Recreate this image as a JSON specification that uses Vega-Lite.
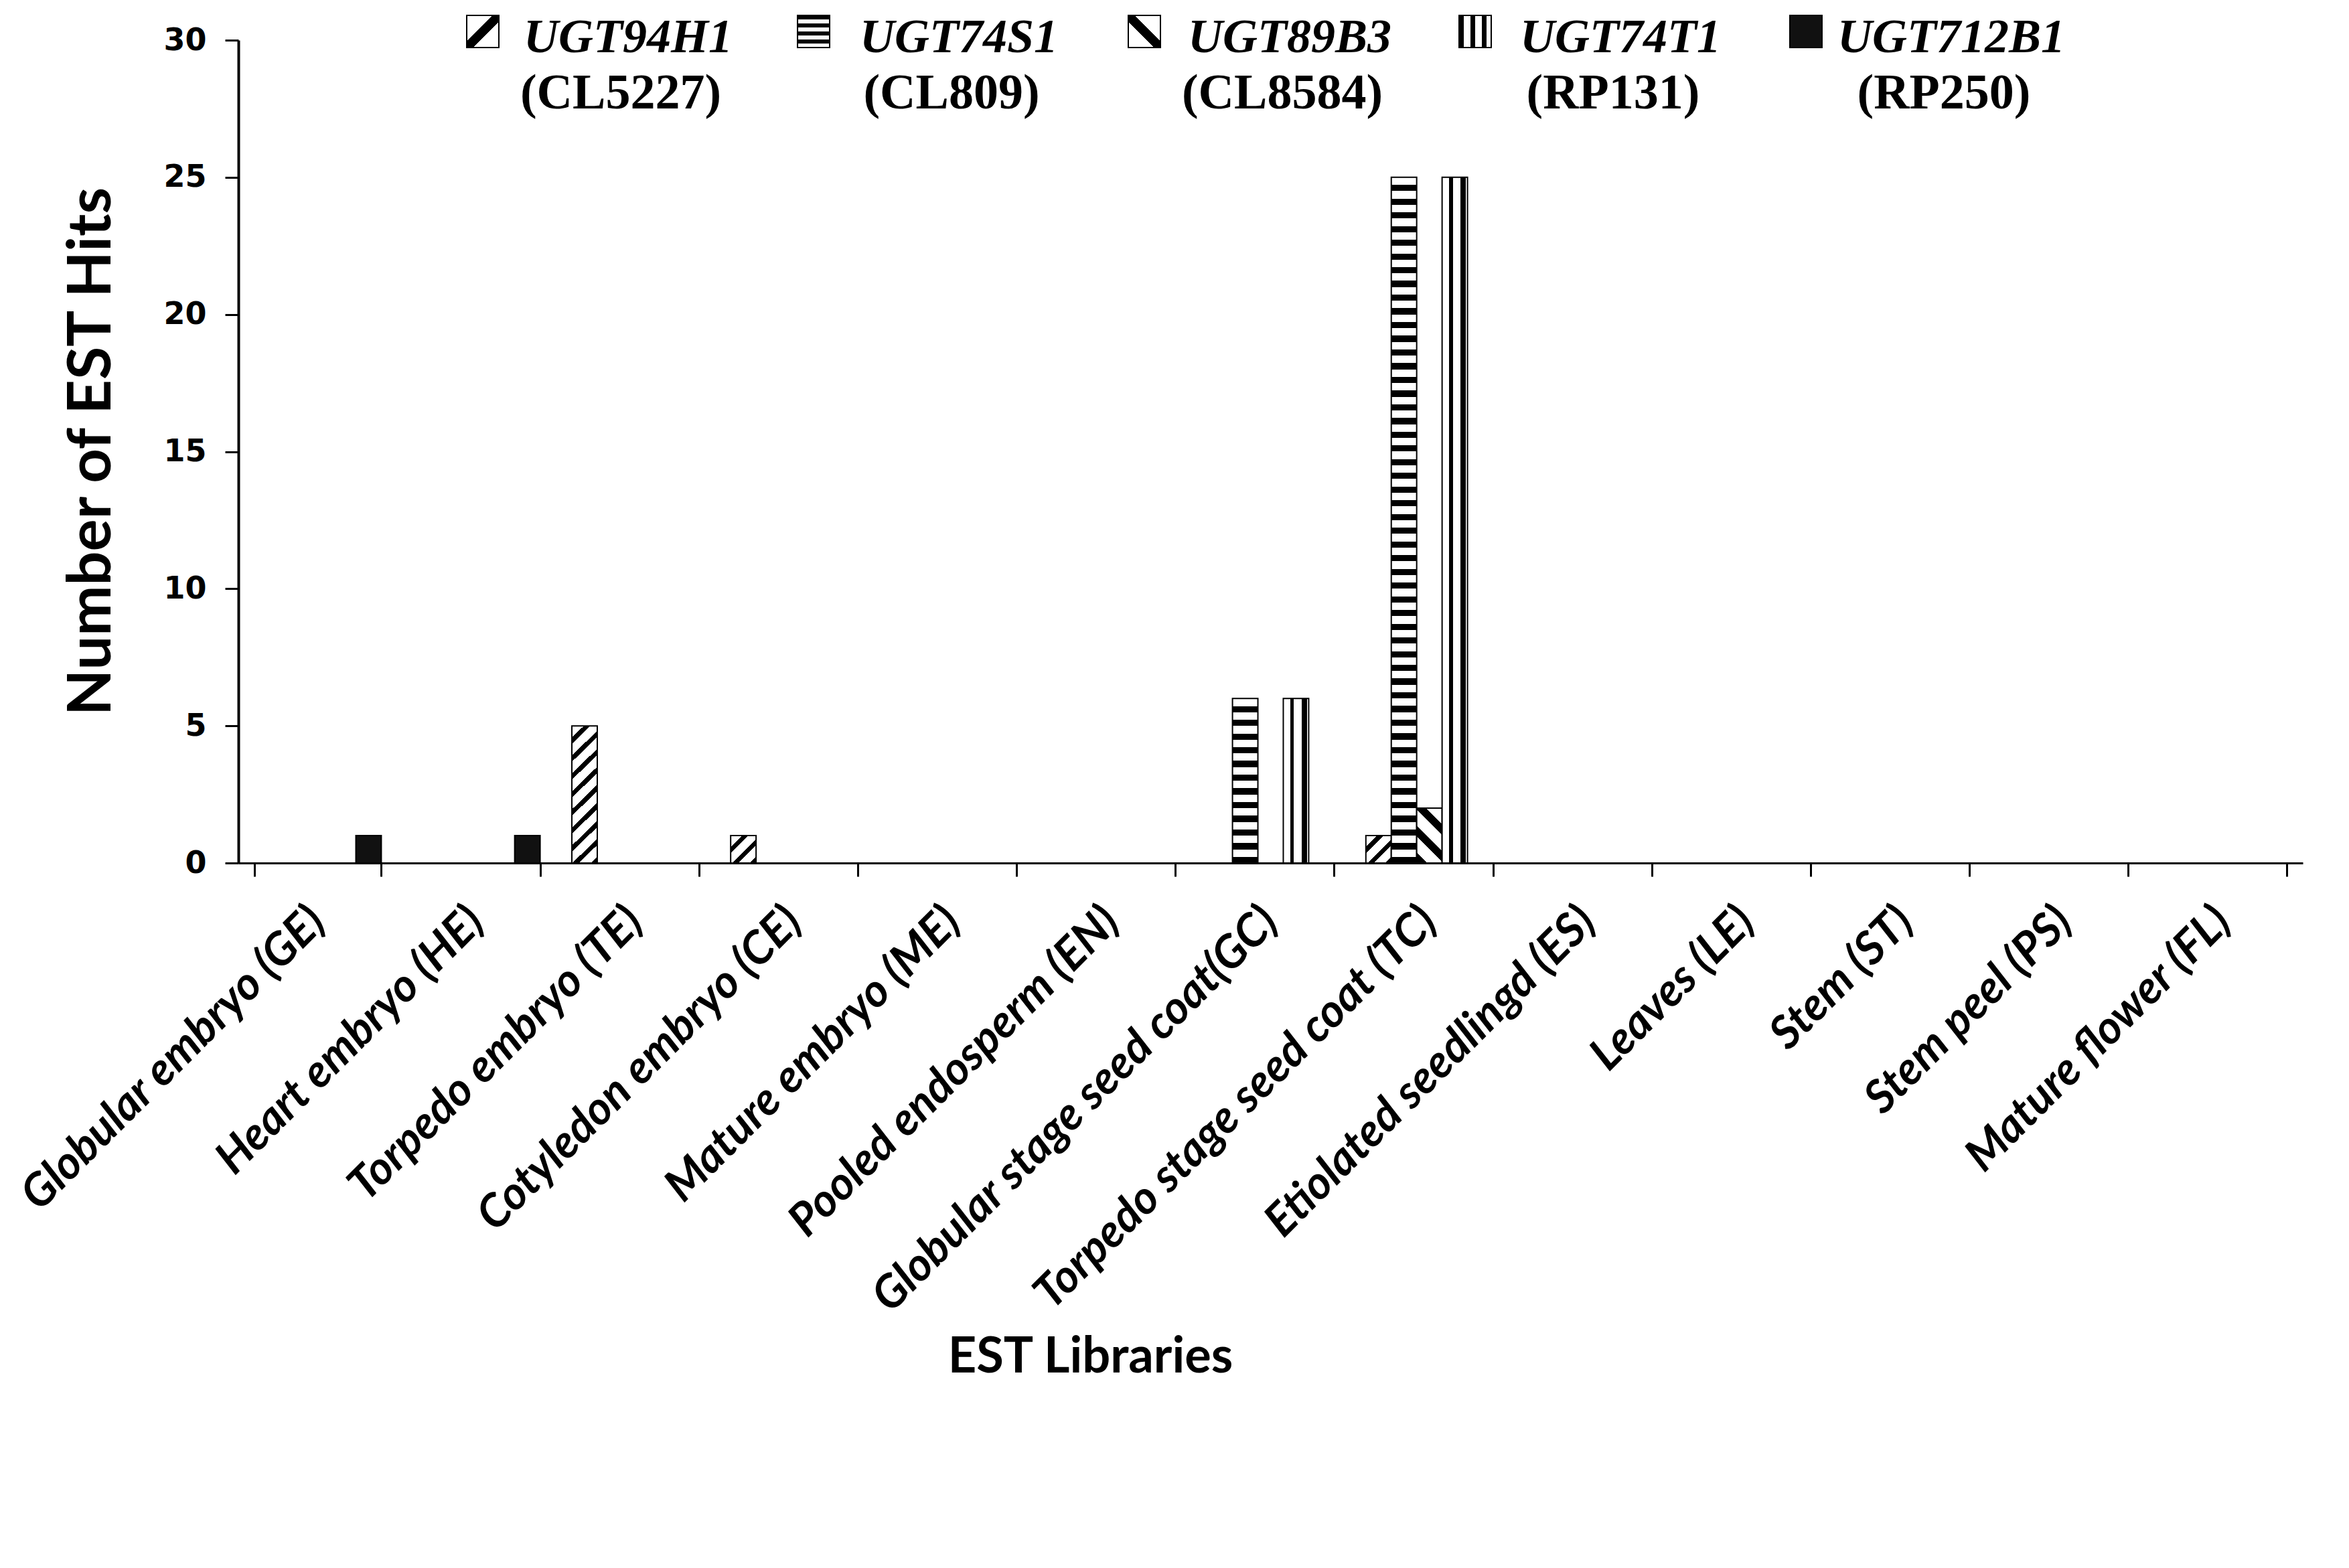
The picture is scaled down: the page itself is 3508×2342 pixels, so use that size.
{
  "$schema": "https://vega.github.io/schema/vega-lite/v6.json",
  "width": 3083,
  "height": 1229,
  "autosize": "none",
  "padding": {"left": 356, "top": 60, "right": 69, "bottom": 1053},
  "background": "white",
  "config": {"view": {"stroke": null}},
  "datasets": {
    "hits": [
      {"library": "Globular embryo (GE)", "series": "UGT712B1", "hits": 1},
      {"library": "Heart embryo (HE)", "series": "UGT712B1", "hits": 1},
      {"library": "Torpedo embryo (TE)", "series": "UGT94H1", "hits": 5},
      {"library": "Cotyledon embryo (CE)", "series": "UGT94H1", "hits": 1},
      {"library": "Globular stage seed coat(GC)", "series": "UGT74S1", "hits": 6},
      {"library": "Globular stage seed coat(GC)", "series": "UGT74T1", "hits": 6},
      {"library": "Torpedo stage seed coat (TC)", "series": "UGT94H1", "hits": 1},
      {"library": "Torpedo stage seed coat (TC)", "series": "UGT74S1", "hits": 25},
      {"library": "Torpedo stage seed coat (TC)", "series": "UGT89B3", "hits": 2},
      {"library": "Torpedo stage seed coat (TC)", "series": "UGT74T1", "hits": 25}
    ],
    "legend": [
      {"series": "UGT94H1", "clone": "(CL5227)"},
      {"series": "UGT74S1", "clone": "(CL809)"},
      {"series": "UGT89B3", "clone": "(CL8584)"},
      {"series": "UGT74T1", "clone": "(RP131)"},
      {"series": "UGT712B1", "clone": "(RP250)"}
    ]
  },
  "resolve": {"scale": {"x": "independent"}},
  "layer": [
    {
      "data": {"name": "hits"},
      "mark": {"type": "bar", "stroke": "#000", "strokeWidth": 2},
      "encoding": {
        "x": {
          "field": "library",
          "type": "nominal",
          "scale": {
            "domain": ["Globular embryo (GE)", "Heart embryo (HE)", "Torpedo embryo (TE)", "Cotyledon embryo (CE)", "Mature embryo (ME)", "Pooled endosperm (EN)", "Globular stage seed coat(GC)", "Torpedo stage seed coat (TC)", "Etiolated seedlingd (ES)", "Leaves (LE)", "Stem (ST)", "Stem peel (PS)", "Mature flower (FL)"],
            "paddingInner": 0.2,
            "paddingOuter": 0.1
          },
          "axis": {
            "title": "EST Libraries",
            "titleFont": "Lato",
            "titleFontSize": 74,
            "titleFontWeight": "bold",
            "titleColor": "#000",
            "titleX": 1272,
            "titleY": 760,
            "titleAlign": "center",
            "titleBaseline": "alphabetic",
            "labelAngle": -45,
            "labelAlign": "right",
            "labelBaseline": "middle",
            "labelFont": "Lato",
            "labelFontSize": 68,
            "labelFontWeight": "bold",
            "labelFontStyle": "italic",
            "labelColor": "#000",
            "labelPadding": 57,
            "labelLimit": 2000,
            "labelOverlap": false,
            "tickBand": "extent",
            "tickSize": 20,
            "tickWidth": 3,
            "tickColor": "#000",
            "domainColor": "#000",
            "domainWidth": 3
          }
        },
        "xOffset": {
          "field": "series",
          "type": "nominal",
          "scale": {"domain": ["UGT94H1", "UGT74S1", "UGT89B3", "UGT74T1", "UGT712B1"], "paddingInner": 0, "paddingOuter": 0}
        },
        "y": {
          "field": "hits",
          "type": "quantitative",
          "title": "Number of EST Hits",
          "scale": {"domain": [0, 30], "nice": false},
          "axis": {
            "title": "Number of EST Hits",
            "values": [0, 5, 10, 15, 20, 25, 30],
            "grid": false,
            "tickSize": 20,
            "tickWidth": 3,
            "tickColor": "#000",
            "domainColor": "#000",
            "domainWidth": 4,
            "labelFont": "DejaVu Sans",
            "labelFontSize": 46,
            "labelFontWeight": "bold",
            "labelColor": "#000",
            "labelPadding": 28,
            "titleFont": "Lato",
            "titleFontSize": 90,
            "titleFontWeight": "bold",
            "titleColor": "#000",
            "titleX": -219,
            "titleY": 614,
            "titleAngle": -90,
            "titleAlign": "center",
            "titleBaseline": "middle"
          }
        },
        "fill": {
          "condition": [
            {
              "test": "datum.series === 'UGT94H1' && datum.hits >= 3",
              "value": {
                "gradient": "linear", "x1": 0, "y1": 0, "x2": 0.206, "y2": 1.143,
                "stops": [
                  {"offset": 0, "color": "#fff"}, {"offset": 0.072, "color": "#fff"}, {"offset": 0.072, "color": "#000"}, {"offset": 0.111, "color": "#000"},
                  {"offset": 0.111, "color": "#fff"}, {"offset": 0.183, "color": "#fff"}, {"offset": 0.183, "color": "#000"}, {"offset": 0.222, "color": "#000"},
                  {"offset": 0.222, "color": "#fff"}, {"offset": 0.294, "color": "#fff"}, {"offset": 0.294, "color": "#000"}, {"offset": 0.333, "color": "#000"},
                  {"offset": 0.333, "color": "#fff"}, {"offset": 0.405, "color": "#fff"}, {"offset": 0.405, "color": "#000"}, {"offset": 0.444, "color": "#000"},
                  {"offset": 0.444, "color": "#fff"}, {"offset": 0.516, "color": "#fff"}, {"offset": 0.516, "color": "#000"}, {"offset": 0.556, "color": "#000"},
                  {"offset": 0.556, "color": "#fff"}, {"offset": 0.628, "color": "#fff"}, {"offset": 0.628, "color": "#000"}, {"offset": 0.667, "color": "#000"},
                  {"offset": 0.667, "color": "#fff"}, {"offset": 0.739, "color": "#fff"}, {"offset": 0.739, "color": "#000"}, {"offset": 0.778, "color": "#000"},
                  {"offset": 0.778, "color": "#fff"}, {"offset": 0.85, "color": "#fff"}, {"offset": 0.85, "color": "#000"}, {"offset": 0.889, "color": "#000"},
                  {"offset": 0.889, "color": "#fff"}, {"offset": 0.961, "color": "#fff"}, {"offset": 0.961, "color": "#000"}, {"offset": 1, "color": "#000"}
                ]
              }
            },
            {
              "test": "datum.series === 'UGT94H1'",
              "value": {
                "gradient": "linear", "x1": 0, "y1": 0, "x2": 0.959, "y2": 1.038,
                "stops": [
                  {"offset": 0, "color": "#fff"}, {"offset": 0.217, "color": "#fff"}, {"offset": 0.217, "color": "#000"}, {"offset": 0.333, "color": "#000"},
                  {"offset": 0.333, "color": "#fff"}, {"offset": 0.55, "color": "#fff"}, {"offset": 0.55, "color": "#000"}, {"offset": 0.667, "color": "#000"},
                  {"offset": 0.667, "color": "#fff"}, {"offset": 0.883, "color": "#fff"}, {"offset": 0.883, "color": "#000"}, {"offset": 1, "color": "#000"}
                ]
              }
            },
            {
              "test": "datum.series === 'UGT74S1' && datum.hits >= 10",
              "value": {
                "gradient": "linear", "x1": 0, "y1": 0, "x2": 0, "y2": 1,
                "stops": [
                  {"offset": 0, "color": "#fff"}, {"offset": 0.011, "color": "#fff"}, {"offset": 0.011, "color": "#000"}, {"offset": 0.02, "color": "#000"},
                  {"offset": 0.02, "color": "#fff"}, {"offset": 0.031, "color": "#fff"}, {"offset": 0.031, "color": "#000"}, {"offset": 0.04, "color": "#000"},
                  {"offset": 0.04, "color": "#fff"}, {"offset": 0.051, "color": "#fff"}, {"offset": 0.051, "color": "#000"}, {"offset": 0.06, "color": "#000"},
                  {"offset": 0.06, "color": "#fff"}, {"offset": 0.071, "color": "#fff"}, {"offset": 0.071, "color": "#000"}, {"offset": 0.08, "color": "#000"},
                  {"offset": 0.08, "color": "#fff"}, {"offset": 0.091, "color": "#fff"}, {"offset": 0.091, "color": "#000"}, {"offset": 0.1, "color": "#000"},
                  {"offset": 0.1, "color": "#fff"}, {"offset": 0.111, "color": "#fff"}, {"offset": 0.111, "color": "#000"}, {"offset": 0.12, "color": "#000"},
                  {"offset": 0.12, "color": "#fff"}, {"offset": 0.131, "color": "#fff"}, {"offset": 0.131, "color": "#000"}, {"offset": 0.14, "color": "#000"},
                  {"offset": 0.14, "color": "#fff"}, {"offset": 0.151, "color": "#fff"}, {"offset": 0.151, "color": "#000"}, {"offset": 0.16, "color": "#000"},
                  {"offset": 0.16, "color": "#fff"}, {"offset": 0.171, "color": "#fff"}, {"offset": 0.171, "color": "#000"}, {"offset": 0.18, "color": "#000"},
                  {"offset": 0.18, "color": "#fff"}, {"offset": 0.191, "color": "#fff"}, {"offset": 0.191, "color": "#000"}, {"offset": 0.2, "color": "#000"},
                  {"offset": 0.2, "color": "#fff"}, {"offset": 0.211, "color": "#fff"}, {"offset": 0.211, "color": "#000"}, {"offset": 0.22, "color": "#000"},
                  {"offset": 0.22, "color": "#fff"}, {"offset": 0.231, "color": "#fff"}, {"offset": 0.231, "color": "#000"}, {"offset": 0.24, "color": "#000"},
                  {"offset": 0.24, "color": "#fff"}, {"offset": 0.251, "color": "#fff"}, {"offset": 0.251, "color": "#000"}, {"offset": 0.26, "color": "#000"},
                  {"offset": 0.26, "color": "#fff"}, {"offset": 0.271, "color": "#fff"}, {"offset": 0.271, "color": "#000"}, {"offset": 0.28, "color": "#000"},
                  {"offset": 0.28, "color": "#fff"}, {"offset": 0.291, "color": "#fff"}, {"offset": 0.291, "color": "#000"}, {"offset": 0.3, "color": "#000"},
                  {"offset": 0.3, "color": "#fff"}, {"offset": 0.311, "color": "#fff"}, {"offset": 0.311, "color": "#000"}, {"offset": 0.32, "color": "#000"},
                  {"offset": 0.32, "color": "#fff"}, {"offset": 0.331, "color": "#fff"}, {"offset": 0.331, "color": "#000"}, {"offset": 0.34, "color": "#000"},
                  {"offset": 0.34, "color": "#fff"}, {"offset": 0.351, "color": "#fff"}, {"offset": 0.351, "color": "#000"}, {"offset": 0.36, "color": "#000"},
                  {"offset": 0.36, "color": "#fff"}, {"offset": 0.371, "color": "#fff"}, {"offset": 0.371, "color": "#000"}, {"offset": 0.38, "color": "#000"},
                  {"offset": 0.38, "color": "#fff"}, {"offset": 0.391, "color": "#fff"}, {"offset": 0.391, "color": "#000"}, {"offset": 0.4, "color": "#000"},
                  {"offset": 0.4, "color": "#fff"}, {"offset": 0.411, "color": "#fff"}, {"offset": 0.411, "color": "#000"}, {"offset": 0.42, "color": "#000"},
                  {"offset": 0.42, "color": "#fff"}, {"offset": 0.431, "color": "#fff"}, {"offset": 0.431, "color": "#000"}, {"offset": 0.44, "color": "#000"},
                  {"offset": 0.44, "color": "#fff"}, {"offset": 0.451, "color": "#fff"}, {"offset": 0.451, "color": "#000"}, {"offset": 0.46, "color": "#000"},
                  {"offset": 0.46, "color": "#fff"}, {"offset": 0.471, "color": "#fff"}, {"offset": 0.471, "color": "#000"}, {"offset": 0.48, "color": "#000"},
                  {"offset": 0.48, "color": "#fff"}, {"offset": 0.491, "color": "#fff"}, {"offset": 0.491, "color": "#000"}, {"offset": 0.5, "color": "#000"},
                  {"offset": 0.5, "color": "#fff"}, {"offset": 0.511, "color": "#fff"}, {"offset": 0.511, "color": "#000"}, {"offset": 0.52, "color": "#000"},
                  {"offset": 0.52, "color": "#fff"}, {"offset": 0.531, "color": "#fff"}, {"offset": 0.531, "color": "#000"}, {"offset": 0.54, "color": "#000"},
                  {"offset": 0.54, "color": "#fff"}, {"offset": 0.551, "color": "#fff"}, {"offset": 0.551, "color": "#000"}, {"offset": 0.56, "color": "#000"},
                  {"offset": 0.56, "color": "#fff"}, {"offset": 0.571, "color": "#fff"}, {"offset": 0.571, "color": "#000"}, {"offset": 0.58, "color": "#000"},
                  {"offset": 0.58, "color": "#fff"}, {"offset": 0.591, "color": "#fff"}, {"offset": 0.591, "color": "#000"}, {"offset": 0.6, "color": "#000"},
                  {"offset": 0.6, "color": "#fff"}, {"offset": 0.611, "color": "#fff"}, {"offset": 0.611, "color": "#000"}, {"offset": 0.62, "color": "#000"},
                  {"offset": 0.62, "color": "#fff"}, {"offset": 0.631, "color": "#fff"}, {"offset": 0.631, "color": "#000"}, {"offset": 0.64, "color": "#000"},
                  {"offset": 0.64, "color": "#fff"}, {"offset": 0.651, "color": "#fff"}, {"offset": 0.651, "color": "#000"}, {"offset": 0.66, "color": "#000"},
                  {"offset": 0.66, "color": "#fff"}, {"offset": 0.671, "color": "#fff"}, {"offset": 0.671, "color": "#000"}, {"offset": 0.68, "color": "#000"},
                  {"offset": 0.68, "color": "#fff"}, {"offset": 0.691, "color": "#fff"}, {"offset": 0.691, "color": "#000"}, {"offset": 0.7, "color": "#000"},
                  {"offset": 0.7, "color": "#fff"}, {"offset": 0.711, "color": "#fff"}, {"offset": 0.711, "color": "#000"}, {"offset": 0.72, "color": "#000"},
                  {"offset": 0.72, "color": "#fff"}, {"offset": 0.731, "color": "#fff"}, {"offset": 0.731, "color": "#000"}, {"offset": 0.74, "color": "#000"},
                  {"offset": 0.74, "color": "#fff"}, {"offset": 0.751, "color": "#fff"}, {"offset": 0.751, "color": "#000"}, {"offset": 0.76, "color": "#000"},
                  {"offset": 0.76, "color": "#fff"}, {"offset": 0.771, "color": "#fff"}, {"offset": 0.771, "color": "#000"}, {"offset": 0.78, "color": "#000"},
                  {"offset": 0.78, "color": "#fff"}, {"offset": 0.791, "color": "#fff"}, {"offset": 0.791, "color": "#000"}, {"offset": 0.8, "color": "#000"},
                  {"offset": 0.8, "color": "#fff"}, {"offset": 0.811, "color": "#fff"}, {"offset": 0.811, "color": "#000"}, {"offset": 0.82, "color": "#000"},
                  {"offset": 0.82, "color": "#fff"}, {"offset": 0.831, "color": "#fff"}, {"offset": 0.831, "color": "#000"}, {"offset": 0.84, "color": "#000"},
                  {"offset": 0.84, "color": "#fff"}, {"offset": 0.851, "color": "#fff"}, {"offset": 0.851, "color": "#000"}, {"offset": 0.86, "color": "#000"},
                  {"offset": 0.86, "color": "#fff"}, {"offset": 0.871, "color": "#fff"}, {"offset": 0.871, "color": "#000"}, {"offset": 0.88, "color": "#000"},
                  {"offset": 0.88, "color": "#fff"}, {"offset": 0.891, "color": "#fff"}, {"offset": 0.891, "color": "#000"}, {"offset": 0.9, "color": "#000"},
                  {"offset": 0.9, "color": "#fff"}, {"offset": 0.911, "color": "#fff"}, {"offset": 0.911, "color": "#000"}, {"offset": 0.92, "color": "#000"},
                  {"offset": 0.92, "color": "#fff"}, {"offset": 0.931, "color": "#fff"}, {"offset": 0.931, "color": "#000"}, {"offset": 0.94, "color": "#000"},
                  {"offset": 0.94, "color": "#fff"}, {"offset": 0.951, "color": "#fff"}, {"offset": 0.951, "color": "#000"}, {"offset": 0.96, "color": "#000"},
                  {"offset": 0.96, "color": "#fff"}, {"offset": 0.971, "color": "#fff"}, {"offset": 0.971, "color": "#000"}, {"offset": 0.98, "color": "#000"},
                  {"offset": 0.98, "color": "#fff"}, {"offset": 0.991, "color": "#fff"}, {"offset": 0.991, "color": "#000"}, {"offset": 1, "color": "#000"}
                ]
              }
            },
            {
              "test": "datum.series === 'UGT74S1'",
              "value": {
                "gradient": "linear", "x1": 0, "y1": 0, "x2": 0, "y2": 1,
                "stops": [
                  {"offset": 0, "color": "#fff"}, {"offset": 0.046, "color": "#fff"}, {"offset": 0.046, "color": "#000"}, {"offset": 0.083, "color": "#000"},
                  {"offset": 0.083, "color": "#fff"}, {"offset": 0.129, "color": "#fff"}, {"offset": 0.129, "color": "#000"}, {"offset": 0.167, "color": "#000"},
                  {"offset": 0.167, "color": "#fff"}, {"offset": 0.213, "color": "#fff"}, {"offset": 0.213, "color": "#000"}, {"offset": 0.25, "color": "#000"},
                  {"offset": 0.25, "color": "#fff"}, {"offset": 0.296, "color": "#fff"}, {"offset": 0.296, "color": "#000"}, {"offset": 0.333, "color": "#000"},
                  {"offset": 0.333, "color": "#fff"}, {"offset": 0.379, "color": "#fff"}, {"offset": 0.379, "color": "#000"}, {"offset": 0.417, "color": "#000"},
                  {"offset": 0.417, "color": "#fff"}, {"offset": 0.463, "color": "#fff"}, {"offset": 0.463, "color": "#000"}, {"offset": 0.5, "color": "#000"},
                  {"offset": 0.5, "color": "#fff"}, {"offset": 0.546, "color": "#fff"}, {"offset": 0.546, "color": "#000"}, {"offset": 0.583, "color": "#000"},
                  {"offset": 0.583, "color": "#fff"}, {"offset": 0.629, "color": "#fff"}, {"offset": 0.629, "color": "#000"}, {"offset": 0.667, "color": "#000"},
                  {"offset": 0.667, "color": "#fff"}, {"offset": 0.713, "color": "#fff"}, {"offset": 0.713, "color": "#000"}, {"offset": 0.75, "color": "#000"},
                  {"offset": 0.75, "color": "#fff"}, {"offset": 0.796, "color": "#fff"}, {"offset": 0.796, "color": "#000"}, {"offset": 0.833, "color": "#000"},
                  {"offset": 0.833, "color": "#fff"}, {"offset": 0.879, "color": "#fff"}, {"offset": 0.879, "color": "#000"}, {"offset": 0.917, "color": "#000"},
                  {"offset": 0.917, "color": "#fff"}, {"offset": 0.963, "color": "#fff"}, {"offset": 0.963, "color": "#000"}, {"offset": 1, "color": "#000"}
                ]
              }
            },
            {
              "test": "datum.series === 'UGT89B3'",
              "value": {
                "gradient": "linear", "x1": 1, "y1": 0, "x2": 0.443, "y2": 1.205,
                "stops": [
                  {"offset": 0, "color": "#fff"}, {"offset": 0.2, "color": "#fff"}, {"offset": 0.2, "color": "#000"}, {"offset": 0.333, "color": "#000"},
                  {"offset": 0.333, "color": "#fff"}, {"offset": 0.533, "color": "#fff"}, {"offset": 0.533, "color": "#000"}, {"offset": 0.667, "color": "#000"},
                  {"offset": 0.667, "color": "#fff"}, {"offset": 0.867, "color": "#fff"}, {"offset": 0.867, "color": "#000"}, {"offset": 1, "color": "#000"}
                ]
              }
            },
            {
              "test": "datum.series === 'UGT74T1'",
              "value": {
                "gradient": "linear", "x1": 0, "y1": 0, "x2": 1, "y2": 0,
                "stops": [
                  {"offset": 0, "color": "#fff"}, {"offset": 0.27, "color": "#fff"}, {"offset": 0.27, "color": "#000"}, {"offset": 0.42, "color": "#000"},
                  {"offset": 0.42, "color": "#fff"}, {"offset": 0.72, "color": "#fff"}, {"offset": 0.72, "color": "#000"}, {"offset": 0.93, "color": "#000"},
                  {"offset": 0.93, "color": "#fff"}, {"offset": 1, "color": "#fff"}
                ]
              }
            }
          ],
          "value": "#111"
        }
      }
    },
    {
      "data": {"name": "legend"},
      "encoding": {
        "x": {
          "field": "series",
          "type": "nominal",
          "sort": null,
          "scale": {"type": "band", "paddingInner": 0, "paddingOuter": 0.6205, "align": 0.1925},
          "axis": null
        }
      },
      "layer": [
        {
          "mark": {"type": "square", "size": 2304, "filled": true, "opacity": 1, "stroke": "#000", "strokeWidth": 2},
          "encoding": {
            "y": {"datum": 30.32},
            "fill": {
              "condition": [
                {
                  "test": "datum.series === 'UGT94H1'",
                  "value": {"gradient": "linear", "x1": 0, "y1": 0, "x2": 1, "y2": 1,
                    "stops": [{"offset": 0, "color": "#fff"}, {"offset": 0.4, "color": "#fff"}, {"offset": 0.4, "color": "#000"}, {"offset": 0.6, "color": "#000"}, {"offset": 0.6, "color": "#fff"}, {"offset": 1, "color": "#fff"}]}
                },
                {
                  "test": "datum.series === 'UGT74S1'",
                  "value": {"gradient": "linear", "x1": 0, "y1": 0, "x2": 0, "y2": 1,
                    "stops": [{"offset": 0, "color": "#000"}, {"offset": 0.12, "color": "#000"}, {"offset": 0.12, "color": "#fff"}, {"offset": 0.25, "color": "#fff"},
                      {"offset": 0.25, "color": "#000"}, {"offset": 0.37, "color": "#000"}, {"offset": 0.37, "color": "#fff"}, {"offset": 0.5, "color": "#fff"},
                      {"offset": 0.5, "color": "#000"}, {"offset": 0.62, "color": "#000"}, {"offset": 0.62, "color": "#fff"}, {"offset": 0.75, "color": "#fff"},
                      {"offset": 0.75, "color": "#000"}, {"offset": 0.87, "color": "#000"}, {"offset": 0.87, "color": "#fff"}, {"offset": 1, "color": "#fff"}]}
                },
                {
                  "test": "datum.series === 'UGT89B3'",
                  "value": {"gradient": "linear", "x1": 1, "y1": 0, "x2": 0, "y2": 1,
                    "stops": [{"offset": 0, "color": "#fff"}, {"offset": 0.4, "color": "#fff"}, {"offset": 0.4, "color": "#000"}, {"offset": 0.6, "color": "#000"}, {"offset": 0.6, "color": "#fff"}, {"offset": 1, "color": "#fff"}]}
                },
                {
                  "test": "datum.series === 'UGT74T1'",
                  "value": {"gradient": "linear", "x1": 0, "y1": 0, "x2": 1, "y2": 0,
                    "stops": [{"offset": 0, "color": "#000"}, {"offset": 0.15, "color": "#000"}, {"offset": 0.15, "color": "#fff"}, {"offset": 0.35, "color": "#fff"},
                      {"offset": 0.35, "color": "#000"}, {"offset": 0.5, "color": "#000"}, {"offset": 0.5, "color": "#fff"}, {"offset": 0.7, "color": "#fff"},
                      {"offset": 0.7, "color": "#000"}, {"offset": 0.85, "color": "#000"}, {"offset": 0.85, "color": "#fff"}, {"offset": 1, "color": "#fff"}]}
                }
              ],
              "value": "#111"
            }
          }
        },
        {
          "mark": {"type": "text", "font": "Liberation Serif", "fontSize": 72, "fontWeight": "bold", "fontStyle": "italic", "align": "center", "baseline": "alphabetic", "dx": 217, "color": "#000"},
          "encoding": {"y": {"datum": 29.56}, "text": {"field": "series"}}
        },
        {
          "mark": {"type": "text", "font": "Liberation Serif", "fontSize": 74, "fontWeight": "bold", "align": "center", "baseline": "alphabetic", "dx": 206, "color": "#000"},
          "encoding": {"y": {"datum": 27.51}, "text": {"field": "clone"}}
        }
      ]
    }
  ]
}
